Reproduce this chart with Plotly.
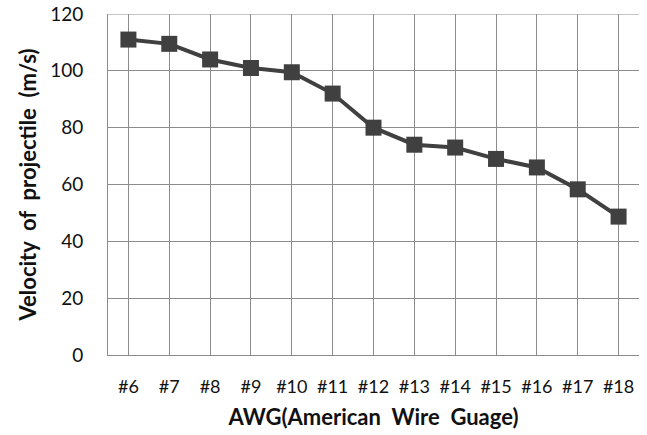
import plotly.graph_objects as go

categories = ["#6", "#7", "#8", "#9", "#10", "#11", "#12", "#13", "#14", "#15", "#16", "#17", "#18"]
velocity = [111, 109.5, 104, 101, 99.5, 92, 80, 74, 73, 69, 66, 58.3, 48.7]
y_ticks = [0, 20, 40, 60, 80, 100, 120]

fig = go.Figure()
fig.add_trace(go.Scatter(
    x=list(range(len(categories))), y=velocity, mode="lines+markers",
    line=dict(color="#404040", width=4),
    marker=dict(symbol="square", size=16, color="#404040"),
    showlegend=False, cliponaxis=False,
))

grid = "#8c8c8c"
fig.update_layout(
    width=647, height=435,
    margin=dict(l=108, r=8, t=14, b=80, autoexpand=False),
    paper_bgcolor="white", plot_bgcolor="white",
    font=dict(family="Lato, Open Sans, sans-serif", color="#111111"),
    xaxis=dict(
        range=[-0.5, len(categories) - 0.5], automargin=False,
        tickmode="array", tickvals=list(range(len(categories))), ticktext=categories,
        showgrid=True, gridcolor=grid, gridwidth=1,
        showline=True, linecolor=grid, linewidth=1,
        zeroline=False, ticks="", tickfont=dict(size=18), ticklabelstandoff=15,
        title=dict(text="<b>AWG(American  Wire  Guage)</b>", font=dict(size=22), standoff=14),
    ),
    yaxis=dict(
        range=[0, 120], tickvals=y_ticks, automargin=False,
        showgrid=True, gridcolor=grid, gridwidth=1,
        showline=True, linecolor=grid, linewidth=1,
        zeroline=False, ticks="", tickfont=dict(size=19), ticklabelstandoff=20,
        title=dict(text="<b>Velocity  of  projectile  (m/s)</b>", font=dict(size=22), standoff=7),
    ),
)
fig.add_shape(type="line", xref="paper", yref="y", x0=0, x1=1, y0=120, y1=120,
              line=dict(color=grid, width=1), layer="below")

fig.write_html("out.html", config={"displayModeBar": False},
               post_script="document.body.style.margin='0px';")
